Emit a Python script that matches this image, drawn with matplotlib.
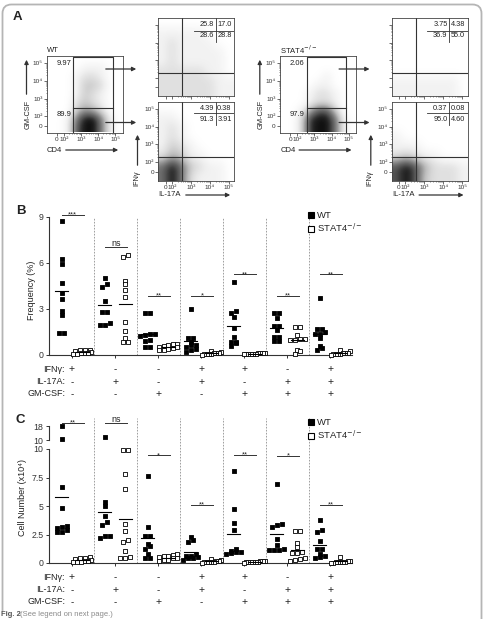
import matplotlib
matplotlib.use("Agg")
import matplotlib.pyplot as plt
import numpy as np
from matplotlib.patches import FancyBboxPatch, FancyArrowPatch
from matplotlib.lines import Line2D
from matplotlib.transforms import blended_transform_factory

plt.rcParams['font.family'] = ['Liberation Sans', 'DejaVu Sans']
plt.rcParams['text.color'] = '#222222'

W, H = 484, 619

# ---------------- data ----------------
groups = 7
row_names = ['IFNγ:', 'IL-17A:', 'GM-CSF:']
row_signs = [
    ['+', '-', '-', '+', '+', '-', '+'],
    ['-', '+', '-', '+', '-', '+', '+'],
    ['-', '-', '+', '-', '+', '+', '+'],
]

# panel B, frequency (%)
freq_wt = [
    [8.76, 6.26, 5.96, 4.72, 4.02, 3.63, 2.89, 2.61, 1.46, 1.46],
    [5.04, 4.60, 4.46, 3.52, 2.83, 2.78, 2.11, 1.96, 1.96],
    [2.72, 2.72, 1.40, 1.35, 1.30, 1.25, 1.00, 0.90, 0.55, 0.50],
    [3.02, 1.13, 1.13, 0.83, 0.65, 0.65, 0.54, 0.37, 0.33, 0.22],
    [4.74, 2.87, 2.72, 2.46, 1.74, 1.20, 0.87, 0.87, 0.76, 0.61],
    [2.76, 2.76, 2.43, 1.91, 1.91, 1.63, 1.20, 1.17, 0.93, 0.93],
    [3.70, 1.70, 1.70, 1.52, 1.35, 1.35, 1.09, 0.61, 0.48, 0.33],
]
freq_ko = [
    [0.35, 0.33, 0.30, 0.28, 0.20, 0.15, 0.12, 0.10, 0.08, 0.05],
    [6.50, 6.41, 4.83, 4.60, 4.24, 3.80, 2.17, 1.57, 1.09, 0.87, 0.85],
    [0.75, 0.70, 0.65, 0.60, 0.55, 0.50, 0.45, 0.40, 0.35, 0.30],
    [0.28, 0.20, 0.15, 0.12, 0.10, 0.08, 0.06, 0.05, 0.04, 0.03],
    [0.15, 0.13, 0.12, 0.10, 0.09, 0.08, 0.07, 0.06, 0.05, 0.04],
    [1.80, 1.80, 1.30, 1.05, 1.05, 1.00, 1.00, 0.30, 0.25, 0.05],
    [0.30, 0.25, 0.15, 0.12, 0.10, 0.08, 0.06, 0.05, 0.04, 0.03],
]
freq_sig = ['***', 'ns', '**', '*', '**', '**', '**']
freq_sig_y = [9.13, 7.07, 3.85, 3.85, 5.26, 3.85, 5.26]

# panel C, cell number (x10^4)
cells_wt = [
    [17.8, 10.4, 6.63, 4.80, 3.26, 3.20, 3.08, 2.90, 2.75, 2.70],
    [11.8, 5.32, 5.00, 4.16, 3.58, 3.34, 2.38, 2.33, 2.18],
    [7.62, 3.20, 2.41, 2.41, 1.69, 1.45, 1.20, 0.78, 0.44, 0.44],
    [2.30, 2.00, 1.86, 0.75, 0.65, 0.60, 0.50, 0.40, 0.40, 0.30],
    [8.06, 4.77, 3.55, 2.88, 1.20, 1.05, 1.00, 0.95, 0.85, 0.75],
    [6.89, 3.40, 3.32, 3.17, 2.07, 1.57, 1.22, 1.13, 1.13, 1.13],
    [3.75, 2.88, 2.75, 1.95, 1.20, 1.20, 0.80, 0.65, 0.55, 0.40],
]
cells_ko = [
    [0.50, 0.45, 0.40, 0.35, 0.30, 0.20, 0.15, 0.10, 0.08, 0.05],
    [9.95, 9.95, 7.79, 6.48, 3.43, 2.82, 1.98, 1.80, 1.02, 0.49, 0.44, 0.44],
    [0.75, 0.70, 0.65, 0.60, 0.50, 0.45, 0.40, 0.30, 0.25, 0.20],
    [0.35, 0.30, 0.20, 0.15, 0.12, 0.10, 0.08, 0.06, 0.05, 0.03],
    [0.20, 0.18, 0.15, 0.12, 0.10, 0.09, 0.08, 0.06, 0.05, 0.04],
    [2.79, 2.79, 1.72, 1.42, 0.99, 0.85, 0.85, 0.40, 0.35, 0.30, 0.20],
    [0.50, 0.20, 0.15, 0.12, 0.10, 0.08, 0.06, 0.05, 0.04, 0.03],
]
cells_sig = ['**', 'ns', '*', '**', '**', '*', '**']
cells_sig_y = [19.7, 19.7, 9.45, 5.12, 9.48, 9.42, 5.12]

# panel A, flow plots
wt_cd4_pct = ['9.97', '89.9']
ko_cd4_pct = ['2.06', '97.9']
wt_gm_pos_quad = [['25.8', '17.0'], ['28.6', '28.8']]
wt_gm_neg_quad = [['4.39', '0.38'], ['91.3', '3.91']]
ko_gm_pos_quad = [['3.75', '4.38'], ['36.9', '55.0']]
ko_gm_neg_quad = [['0.37', '0.08'], ['95.0', '4.60']]

# event density (0 = empty, 9 = solid), top row first
wt_cd4_density = ["000000000", "000011100", "000122100", "000133200", "000132100",
                  "000232100", "000354200", "001699510", "001799510"]
ko_cd4_density = ["000000000", "000000000", "000001000", "000011000", "000122100",
                  "000122100", "001477300", "002899610", "002899610"]
wt_pos_density = ["00000000", "11111000", "12111100", "12111110", "12111110",
                  "22222110", "22222211", "22222211"]
ko_pos_density = ["00000000", "00000000", "00000000", "00000000", "00000000",
                  "00000000", "11111110", "11111110"]
wt_neg_density = ["00000000", "11000000", "12100000", "12100000", "13210000",
                  "24311000", "69632110", "69621110"]
ko_neg_density = ["00000000", "00000000", "00000000", "10000000", "11100000",
                  "23211000", "79742221", "79732221"]

# ---------------- helpers ----------------
fig = plt.figure(figsize=(W / 100, H / 100), dpi=100)


def fx(x):
    return x / W


def fy(y):
    return 1 - y / H


def px_axes(l, t, r, b):
    return fig.add_axes([l / W, 1 - b / H, (r - l) / W, (b - t) / H])


def arrow(x0, y0, x1, y1):
    fig.add_artist(FancyArrowPatch((fx(x0), fy(y0)), (fx(x1), fy(y1)),
                                   transform=fig.transFigure, arrowstyle='-|>',
                                   mutation_scale=6, lw=0.9, color='#333333'))


def grid(rows):
    return np.array([[int(c) for c in r] for r in rows], dtype=float)


def swarm(vals, ypx, sy=3.4):
    # points within one marker height are laid out side by side, centred
    ys = np.array([ypx(v) for v in vals])
    order = np.argsort(ys)
    offs = np.zeros(len(vals))
    bands, cur, start = [], [], None
    for k in order:
        if cur and ys[k] - start >= sy:
            bands.append(cur)
            cur = []
        if not cur:
            start = ys[k]
        cur.append(k)
    bands.append(cur)
    for idx in bands:
        n = len(idx)
        sx = 5.0 if n <= 3 else float(np.clip(18.0 / (n - 1), 2.4, 5.0))
        offs[idx] = (np.arange(n) - (n - 1) / 2) * sx
    return offs


LOG_MINOR = [d + np.log10(k) for d in (2, 3, 4) for k in range(2, 10)]
SUP = {2: '10²', 3: '10³', 4: '10⁴', 5: '10⁵'}


def flow_axes(box, xlim, ylim, zero_x, zero_y, density, labels=True):
    ax = px_axes(*box)
    ax.imshow(grid(density), extent=(*xlim, *ylim), origin='upper', cmap='Greys',
              vmin=0, vmax=9.5, interpolation='bicubic', aspect='auto', zorder=0)
    ax.set_xlim(xlim)
    ax.set_ylim(ylim)
    ax.set_xticks([zero_x, 2, 3, 4, 5])
    ax.set_yticks([zero_y, 2, 3, 4, 5])
    ax.set_xticks([m for m in LOG_MINOR if m < xlim[1]], minor=True)
    ax.set_yticks([m for m in LOG_MINOR if m < ylim[1]], minor=True)
    if labels:
        ax.set_xticklabels(['0'] + [SUP[d] for d in (2, 3, 4, 5)])
        ax.set_yticklabels(['0'] + [SUP[d] for d in (2, 3, 4, 5)])
    else:
        ax.set_xticklabels([])
        ax.set_yticklabels([])
    ax.tick_params(which='major', length=2, width=0.5, pad=1, labelsize=4.6,
                   colors='#333333', labelcolor='#333333')
    ax.tick_params(which='minor', length=1, width=0.4, colors='#333333')
    for s in ax.spines.values():
        s.set_linewidth(0.6)
        s.set_color('#444444')
    return ax


def quad_box(ax, quad, hline, vbottom, rows_y):
    kw = dict(transform=ax.transAxes, color='#333333', lw=0.6)
    ax.plot([0.47, 1.0], [hline, hline], **kw)
    ax.plot([0.755, 0.755], [1.0, vbottom], **kw)
    for r, y in enumerate(rows_y):
        ax.text(0.735, y, quad[r][0], transform=ax.transAxes, ha='right', va='center', fontsize=5.3)
        ax.text(0.775, y, quad[r][1], transform=ax.transAxes, ha='left', va='center', fontsize=5.3)


# ---------------- frame ----------------
fig.add_artist(FancyBboxPatch((0.025, -0.3), 4.79, 6.445,
                              boxstyle='round,pad=0,rounding_size=0.09',
                              transform=fig.dpi_scale_trans, facecolor='none',
                              edgecolor='#b5b5b5', lw=1.3))

# ---------------- panel A ----------------
fig.text(fx(17.5), fy(16.5), 'A', fontsize=9.5, fontweight='bold', ha='center', va='center')

for dx, name, pct, pos_dens, neg_dens, pos_quad, neg_quad, cd4_dens in [
        (0, 'WT', wt_cd4_pct, wt_pos_density, wt_neg_density, wt_gm_pos_quad, wt_gm_neg_quad, wt_cd4_density),
        (233.3, 'STAT4$^{-/-}$', ko_cd4_pct, ko_pos_density, ko_neg_density, ko_gm_pos_quad, ko_gm_neg_quad, ko_cd4_density)]:
    # CD4 vs GM-CSF
    ax = flow_axes((46.7 + dx, 55.5, 123 + dx, 132.5), (0.99, 5.44), (1.1, 5.42), 1.59, 1.47, cd4_dens)
    gk = dict(color='#333333', lw=0.8)
    ax.plot([2.54, 2.54, 4.85, 4.85], [1.1, 5.32, 5.32, 1.1], **gk)
    ax.plot([2.54, 4.85], [2.45, 2.45], **gk)
    ax.text(0.32, 0.9, pct[0], transform=ax.transAxes, ha='right', va='center', fontsize=5.5)
    ax.text(0.32, 0.24, pct[1], transform=ax.transAxes, ha='right', va='center', fontsize=5.5)
    fig.text(fx(47 + dx), fy(50), name, fontsize=5.5, ha='left', va='center')
    fig.text(fx(28 + dx), fy(114), 'GM-CSF', rotation=90, fontsize=5.3, ha='center', va='center')
    arrow(26.5 + dx, 97, 26.5 + dx, 57)
    fig.text(fx(47 + dx), fy(150), 'CD4', fontsize=5.5, ha='left', va='center')
    arrow(63 + dx, 150, 121 + dx, 150)

    # GM-CSF+ gate
    ax = flow_axes((158.3 + dx, 18.3, 234.3 + dx, 96), (1.28, 5.28), (0.94, 5.41), 1.67, 1.44,
                   pos_dens, labels=False)
    ax.axvline(2.54, **gk)
    ax.axhline(2.28, **gk)
    quad_box(ax, pos_quad, 0.84, 0.70, [0.914, 0.775])

    # GM-CSF- gate
    ax = flow_axes((158.3 + dx, 101.7, 234.3 + dx, 180.7), (1.28, 5.28), (0.94, 5.41), 1.67, 1.44,
                   neg_dens)
    ax.axvline(2.54, **gk)
    ax.axhline(2.28, **gk)
    quad_box(ax, neg_quad, 0.853, 0.705, [0.91, 0.78])
    fig.text(fx(158.5 + dx), fy(195), 'IL-17A', fontsize=5.5, ha='left', va='center')
    arrow(183 + dx, 195, 233 + dx, 195)
    fig.text(fx(136.5 + dx), fy(178), 'IFNγ', rotation=90, fontsize=5.3, ha='center', va='center')
    arrow(137.5 + dx, 168, 137.5 + dx, 132)

    arrow(103 + dx, 69, 139 + dx, 69)
    arrow(103 + dx, 122.5, 139 + dx, 122.5)

# ---------------- column scatter panels ----------------
XLIM = (-0.535, 6.51)
XPX = 43.0
WT_DX, KO_DX = -0.24, 0.24


def style_axis(ax):
    for s in ('top', 'right'):
        ax.spines[s].set_visible(False)
    for s in ('left', 'bottom'):
        ax.spines[s].set_linewidth(0.8)
        ax.spines[s].set_color('#333333')
    ax.tick_params(length=2.5, width=0.7, pad=1.5, labelsize=6.3, colors='#333333',
                   labelcolor='#333333')


def sig_bar(ax, i, h, sig):
    ax.plot([i - 0.23, i + 0.27], [h, h], color='#333333', lw=0.7, clip_on=False)
    if sig == 'ns':
        ax.annotate(sig, (i + 0.02, h), xytext=(0, 0.6), textcoords='offset points',
                    ha='center', va='baseline', fontsize=6.5, annotation_clip=False)
    else:
        ax.annotate(sig, (i + 0.02, h), xytext=(0, -1.2), textcoords='offset points',
                    ha='center', va='baseline', fontsize=5.5, annotation_clip=False)


def row_labels(ax, ys):
    tr = blended_transform_factory(ax.transData, fig.transFigure)
    for name, signs, y in zip(row_names, row_signs, ys):
        fig.text(fx(65), fy(y), name, ha='right', va='center', fontsize=6.5)
        for i, s in enumerate(signs):
            ax.text(i, fy(y), s, transform=tr, ha='center', va='center', fontsize=7.5 if s == '+' else 7)


def legend(ax, x, y):
    h = [Line2D([], [], ls='none', marker='s', ms=5, mfc='black', mec='black', mew=0.8),
         Line2D([], [], ls='none', marker='s', ms=5, mfc='white', mec='black', mew=0.8)]
    ax.legend(h, ['WT', 'STAT4$^{-/-}$'], loc='upper left', bbox_to_anchor=(fx(x), fy(y)),
              bbox_transform=fig.transFigure, frameon=False, fontsize=6.8,
              handlelength=0.7, handletextpad=0.25, labelspacing=0.15,
              borderpad=0, borderaxespad=0)


def draw_columns(ax_for, wt, ko, ypx):
    for i in range(groups):
        for vals, dx, face in [(wt[i], WT_DX, 'black'), (ko[i], KO_DX, 'white')]:
            vals = np.array(vals)
            xs = i + dx + swarm(vals, ypx) / XPX
            for ax in set(ax_for(v) for v in vals):
                sel = np.array([ax_for(v) is ax for v in vals])
                ax.scatter(xs[sel], vals[sel], marker='s', s=10, facecolor=face,
                           edgecolor='black', linewidth=0.6, zorder=3, clip_on=False)
            m = vals.mean()
            ax_for(m).plot([i + dx - 0.15, i + dx + 0.15], [m, m], color='black', lw=0.8, zorder=4)


# ---- panel B ----
fig.text(fx(20.5), fy(211), 'B', fontsize=9.5, fontweight='bold', ha='center', va='center')
axB = px_axes(49, 217, 352, 355)
axB.set_xlim(XLIM)
axB.set_ylim(0, 9)
axB.set_yticks([0, 3, 6, 9])
axB.set_xticks(range(groups))
axB.set_xticklabels([])
style_axis(axB)
draw_columns(lambda v: axB, freq_wt, freq_ko, lambda v: v * 138 / 9)
for i in range(groups):
    sig_bar(axB, i, freq_sig_y[i], freq_sig[i])
for i in range(groups - 1):
    axB.axvline(i + 0.5, ls=(0, (2, 1.6)), color='#8f8f8f', lw=0.6, zorder=1)
fig.text(fx(31.5), fy(290), 'Frequency (%)', rotation=90, fontsize=6.5, ha='center', va='center')
legend(axB, 308, 211)
row_labels(axB, [369, 382, 394])

# ---- panel C ----
fig.text(fx(20.5), fy(420), 'C', fontsize=9.5, fontweight='bold', ha='center', va='center')
axC = px_axes(49, 449, 352, 563)
axC.set_xlim(XLIM)
axC.set_ylim(0, 10)
axC.set_yticks([0, 2.5, 5, 7.5, 10])
axC.set_yticklabels(['0', '2.5', '5', '7.5', '10'])
axC.set_xticks(range(groups))
axC.set_xticklabels([])
style_axis(axC)

axC2 = px_axes(49, 426, 352, 440)
axC2.set_xlim(XLIM)
axC2.set_ylim(10, 18)
axC2.set_yticks([10, 18])
axC2.set_xticks([])
style_axis(axC2)
axC2.spines['bottom'].set_visible(False)
axC2.patch.set_alpha(0)

draw_columns(lambda v: axC2 if v > 10 else axC, cells_wt, cells_ko,
             lambda v: v * 11.4 if v <= 10 else 123 + (v - 10) * 1.75)
for i in range(groups):
    h = cells_sig_y[i]
    sig_bar(axC2 if h > 10 else axC, i, h, cells_sig[i])
for i in range(groups - 1):
    axC.axvline(i + 0.5, ymax=1.27, ls=(0, (2, 1.6)), color='#8f8f8f', lw=0.6, zorder=1, clip_on=False)
fig.text(fx(22.5), fy(497), 'Cell Number (x10⁴)', rotation=90, fontsize=6.5, ha='center', va='center')
legend(axC, 308, 418)
row_labels(axC, [577, 590, 602])

fig.text(fx(1), fy(615), 'Fig. 2', fontsize=5.5, fontweight='bold', color='#555555', va='center',
         bbox=dict(facecolor='white', edgecolor='none', pad=0.5))
fig.text(fx(20), fy(615), '(See legend on next page.)', fontsize=5.5, color='#8a8a8a', va='center')

fig.savefig('out.png', dpi=100)
